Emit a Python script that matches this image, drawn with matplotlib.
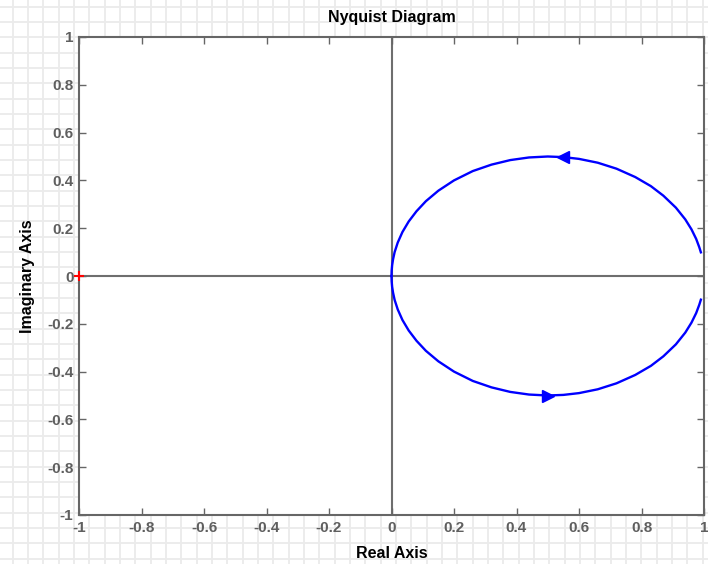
import numpy as np
import matplotlib
matplotlib.use('Agg')
import matplotlib.pyplot as plt
from matplotlib.lines import Line2D

plt.rcParams['font.family'] = ['Liberation Sans', 'DejaVu Sans']
plt.rcParams['font.weight'] = 'bold'

# Lower branch of the Nyquist curve (positive frequencies), from low to high omega
re_pos = [0.990, 0.985, 0.975, 0.960, 0.940, 0.910, 0.870, 0.830, 0.780, 0.720,
          0.660, 0.600, 0.550, 0.500, 0.440, 0.380, 0.320, 0.260, 0.200, 0.150,
          0.110, 0.080, 0.055, 0.035, 0.020, 0.010, 0.005, 0.002, 0.0005, 0.0]
im_pos = [-0.099, -0.120, -0.155, -0.195, -0.237, -0.286, -0.336, -0.376, -0.414, -0.449,
          -0.474, -0.490, -0.4975, -0.500, -0.496, -0.485, -0.466, -0.439, -0.400, -0.357,
          -0.313, -0.271, -0.228, -0.184, -0.140, -0.100, -0.070, -0.045, -0.022, 0.0]

# direction arrows (x, y) and the critical point
arrow_up = (0.55, 0.5)
arrow_down = (0.50, -0.5)
critical = (-1, 0)

ticks = [-1, -0.8, -0.6, -0.4, -0.2, 0, 0.2, 0.4, 0.6, 0.8, 1]
tick_labels = ['-1', '-0.8', '-0.6', '-0.4', '-0.2', '0', '0.2', '0.4', '0.6', '0.8', '1']

W, H = 708, 564
fig = plt.figure(figsize=(W / 100, H / 100), dpi=100)
fig.patch.set_facecolor('white')

# graph-paper background
step = 15.33
for x in np.arange(12.7, W, step):
    fig.add_artist(Line2D([x / W, x / W], [0, 1], transform=fig.transFigure,
                          color='#ebebeb', lw=1.3, zorder=-5))
for y in np.arange(6.7, H, step):
    fig.add_artist(Line2D([0, 1], [1 - y / H, 1 - y / H], transform=fig.transFigure,
                          color='#ebebeb', lw=1.3, zorder=-5))

ax = fig.add_axes([79 / W, (H - 515) / H, 625 / W, 478 / H])
ax.set_facecolor('white')

ax.axhline(0, color='#6e6e6e', lw=1.5, zorder=1)
ax.axvline(0, color='#6e6e6e', lw=1.5, zorder=1)

re_neg = re_pos[::-1]
im_neg = [-v for v in im_pos[::-1]]
ax.plot(re_pos, im_pos, color='#0000ff', lw=1.7, zorder=3)
ax.plot(re_neg, im_neg, color='#0000ff', lw=1.7, zorder=3)
ax.plot(*arrow_up, marker='<', color='#0000ff', ms=8, zorder=4)
ax.plot(*arrow_down, marker='>', color='#0000ff', ms=8, zorder=4)
ax.plot(*critical, marker='+', color='red', ms=7, mew=1.5, zorder=5, clip_on=False)

ax.set_xlim(-1, 1)
ax.set_ylim(-1, 1)
ax.set_xticks(ticks)
ax.set_xticklabels(tick_labels)
ax.set_yticks(ticks)
ax.set_yticklabels(tick_labels)
ax.tick_params(direction='in', length=5, width=1, color='#666666', labelcolor='#5f5f5f',
               labelsize=11, top=True, right=True, pad=4)
for s in ax.spines.values():
    s.set_color('#666666')
    s.set_linewidth(1.5)

ax.set_title('Nyquist Diagram', fontsize=11.5, fontweight='bold', color='black', pad=11)
ax.set_xlabel('Real Axis', fontsize=11.5, fontweight='bold', color='black', labelpad=8)
ax.set_ylabel('Imaginary Axis', fontsize=11.5, fontweight='bold', color='black', labelpad=9)

fig.savefig('out.png', dpi=100)
